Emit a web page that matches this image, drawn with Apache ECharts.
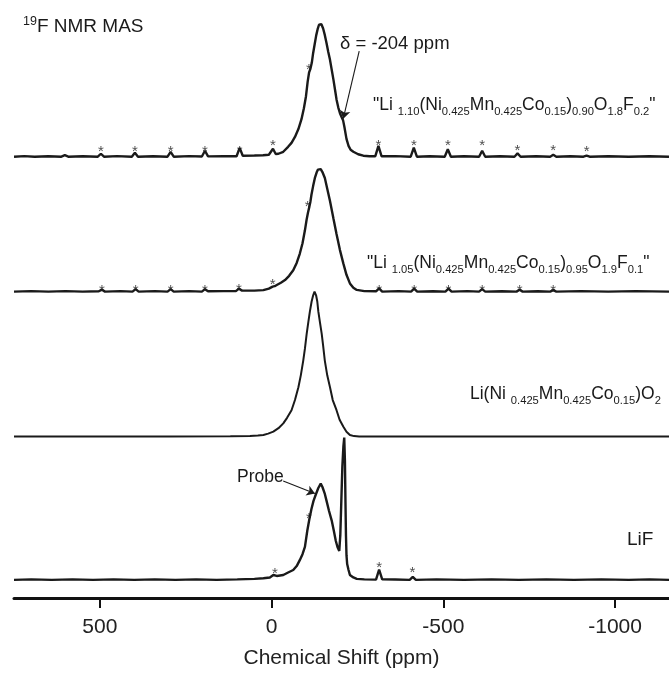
<!DOCTYPE html>
<html>
<head>
<meta charset="utf-8">
<script src="https://cdn.jsdelivr.net/npm/echarts@6/dist/echarts.min.js"></script>
<style>html,body{margin:0;padding:0;background:#fff}#c{width:669px;height:674px}</style>
</head>
<body>
<div id="c"></div>
<script>
// ---- data (ppm, intensity above each trace's own baseline) ----
const tickValues = [500, 0, -500, -1000];
const traceNames = ['LiNMC_F0.2', 'LiNMC_F0.1', 'LiNMC', 'LiF'];
const baselineOffsets = [446.5, 310, 163.3, 18.3];

const trace1 = [
[750,0],[720,0.6],[690,0],[650,0.5],[612,0],[602,1.5],[592,0],[550,0.5],[506,0],[497,3],[488,0],[450,0.6],[407,0],[398,4],[389,0],[345,0.5],[303,0],[294,5],[285,0],[240,0.6],[203,0.2],[194,6],[185,0.3],[140,0.6],[102,0.5],[93,9],[84,1],[50,1.2],[25,1.5],[8,2],[-4,8],[-12,2.8],[-20,3],[-34,5],[-48,10],[-58,14],[-68,20],[-78,28],[-87,38],[-94,49],[-100,61],[-105,76],[-109,85],[-113,89],[-117,95],[-121,105],[-126,115],[-130,123],[-134,129],[-138,133.5],[-141,135.3],[-145,134],[-150,129.7],[-155,123],[-160,114.7],[-165,106],[-170,98],[-175,88],[-180,78],[-185,67],[-189,58],[-194,50],[-199,44],[-204,40],[-208,37],[-212,30],[-218,18],[-224,11],[-230,7],[-238,5],[-252,2.5],[-267,1],[-285,0.5],[-302,0.5],[-311,11],[-320,0.5],[-360,0.6],[-405,0],[-414,9.3],[-423,0],[-460,0.5],[-504,0],[-513,7.6],[-522,0],[-560,0.5],[-604,0],[-613,6],[-622,0],[-665,0.5],[-707,0],[-716,3.3],[-725,0],[-770,0.5],[-811,0],[-820,2],[-829,0],[-870,0.4],[-908,0],[-917,1.2],[-926,0],[-980,0.5],[-1040,0],[-1100,0.5],[-1157,0]
];
const trace2 = [
[750,0],[700,0.5],[650,0],[600,0.5],[550,0],[503,0.3],[494,2],[485,0],[440,0.5],[405,0],[396,2.5],[387,0],[340,0.5],[303,0],[294,2.5],[285,0],[240,0.5],[203,0],[194,2.5],[185,0.3],[140,0.5],[104,0.5],[95,3],[86,1],[50,1],[24,1.5],[8,3],[-3,5],[-9,5.5],[-15,6.7],[-27,9],[-39,11.7],[-51,16],[-63,21.7],[-73,29],[-82,38.3],[-90,49],[-97,62],[-102,73],[-106,80],[-110,86],[-113,91],[-116,98],[-121,107],[-126,115],[-131,120.5],[-135,123.5],[-139,125],[-143,124],[-148,121],[-155,115],[-162,104],[-170,91.7],[-180,74],[-189,58.3],[-199,42],[-209,28.3],[-218,17],[-228,8.3],[-238,4],[-248,1.7],[-270,0.5],[-304,0.3],[-313,3.3],[-322,0],[-370,0.5],[-406,0],[-415,3],[-424,0],[-470,0.4],[-506,0],[-515,3],[-524,0],[-570,0.5],[-604,0],[-613,2.5],[-622,0],[-670,0.4],[-713,0],[-722,2],[-731,0],[-775,0.4],[-811,0],[-820,1.5],[-829,0],[-900,0.5],[-980,0],[-1060,0.5],[-1157,0]
];
const trace3 = [
[750,0],[300,0],[120,0.3],[63,0.5],[40,1],[24,1.7],[10,3],[-5,5],[-20,8.5],[-34,13.4],[-45,19],[-58,26.7],[-68,37],[-78,50],[-85,62],[-92,76.7],[-97,89],[-102,103.7],[-107,116],[-111.5,126.7],[-116.5,136.7],[-121,143],[-125,146.7],[-129.5,143],[-133,136.7],[-136,126.7],[-141,115],[-146,103.7],[-150,92],[-155,76.7],[-162,62],[-170,50],[-178,37],[-189,26.7],[-198,17],[-209,10],[-218,5],[-228,1.7],[-240,0.5],[-255,0],[-1157,0]
];
const trace4 = [
[750,0],[700,0.5],[640,0],[580,0.5],[520,0],[460,0.5],[400,0],[340,0.5],[280,0],[220,0.5],[160,0],[100,0.5],[50,1],[24,1.7],[5,2.5],[-5,5],[-15,4],[-34,5],[-48,7.5],[-63,10],[-73,14],[-82,20],[-90,26],[-97,33.4],[-104,50],[-110,61.7],[-116,71.7],[-122,80],[-129,86.7],[-136,93],[-143,97.4],[-148,94],[-155,87],[-160,80],[-167,70],[-175,60],[-181,50],[-187,39.4],[-192,33],[-197,29.4],[-200,45],[-203,80],[-206,115],[-209,135],[-211.5,144],[-213.5,120],[-215,80],[-216.5,45],[-218,25],[-220,16],[-224,10],[-228,5],[-238,2.5],[-248,1],[-270,0.5],[-304,0.3],[-313,10.5],[-322,0.5],[-360,0.4],[-402,0],[-411,3],[-420,0],[-480,0.5],[-560,0],[-640,0.5],[-720,0],[-800,0.5],[-880,0],[-960,0.5],[-1040,0],[-1100,0.5],[-1157,0]
];
const traces = [trace1, trace2, trace3, trace4];

// spinning side-band markers (ppm, height above baseline)
const sidebands1 = [[497,8],[398,8],[294,8],[194,8],[93,8],[-4,14],[-109,91],[-311,14],[-414,14],[-513,14],[-613,14],[-716,8.5],[-820,8.5],[-917,7.5]];
const sidebands2 = [[494,4],[396,4],[294,4],[194,4],[95,4.5],[-3,10],[-105,88.3],[-313,4.3],[-415,4.3],[-515,4.3],[-613,4.3],[-722,4.3],[-820,4.3]];
const sidebands3 = [];
const sidebands4 = [[-10,9],[-109,65],[-313,15.7],[-410,10]];
const sidebandSets = [sidebands1, sidebands2, sidebands3, sidebands4];

// annotation arrows: [startPpm, startHeight, endPpm, endHeight] relative to a trace
const deltaArrow = [-255, 106.8, -208.6, 38.5];   // on trace 1
const probeArrow = [-33.8, 100, -126.1, 87.4];    // on trace 4

const FONT = "'Liberation Sans', Arial, Helvetica, sans-serif";
const INK = '#1a1a1a';

function rich(parts) {
  return parts.map(p => '{' + p[0] + '|' + p[1] + '}').join('');
}
const richStyles = {
  m: { fontSize: 17.5, lineHeight: 24, fontFamily: FONT, fill: INK, verticalAlign: 'middle' },
  s: { fontSize: 11.2, lineHeight: 15, fontFamily: FONT, fill: INK, verticalAlign: 'bottom' },
  M: { fontSize: 19, lineHeight: 24, fontFamily: FONT, fill: INK, verticalAlign: 'middle' },
  u: { fontSize: 12.5, lineHeight: 14, fontFamily: FONT, fill: INK, verticalAlign: 'top' }
};

const label1 = rich([['m','"Li '],['s','1.10'],['m','(Ni'],['s','0.425'],['m','Mn'],['s','0.425'],['m','Co'],['s','0.15'],['m',')'],['s','0.90'],['m','O'],['s','1.8'],['m','F'],['s','0.2'],['m','"']]);
const label2 = rich([['m','"Li '],['s','1.05'],['m','(Ni'],['s','0.425'],['m','Mn'],['s','0.425'],['m','Co'],['s','0.15'],['m',')'],['s','0.95'],['m','O'],['s','1.9'],['m','F'],['s','0.1'],['m','"']]);
const label3 = rich([['m','Li(Ni '],['s','0.425'],['m','Mn'],['s','0.425'],['m','Co'],['s','0.15'],['m',')O'],['s','2']]);
const titleText = rich([['u','19'],['M','F NMR MAS']]);

function txt(x, y, text, size) {
  return { type: 'text', x: x, y: y, silent: true,
    style: { text: text, rich: richStyles, fontSize: size || 18, fontFamily: FONT, fill: INK, verticalAlign: 'middle', align: 'left' } };
}

const series = traces.map((d, i) => ({
  type: 'line', name: traceNames[i], silent: true, showSymbol: false, symbol: 'none',
  data: d.map(p => [p[0], p[1] + baselineOffsets[i]]),
  lineStyle: { color: INK, width: i === 2 ? 2 : 2.4 },
  z: 2
}));

function arrowLine(a, off) {
  return [{ coord: [a[0], a[1] + off] }, { coord: [a[2], a[3] + off] }];
}
const arrowStyle = { silent: true, symbol: ['none', 'arrow'], symbolSize: 8, label: { show: false },
  lineStyle: { color: INK, width: 1.1, type: 'solid' }, emphasis: { disabled: true } };
series[0].markLine = Object.assign({}, arrowStyle, { data: [arrowLine(deltaArrow, baselineOffsets[0])] });
series[3].markLine = Object.assign({}, arrowStyle, { data: [arrowLine(probeArrow, baselineOffsets[3])] });

const starData = [];
sidebandSets.forEach((set, i) => set.forEach(p => starData.push([p[0], p[1] + baselineOffsets[i]])));
series.push({
  type: 'scatter', silent: true, data: starData, symbolSize: 1,
  itemStyle: { color: 'rgba(0,0,0,0)' },
  label: { show: true, position: 'inside', formatter: '*', fontSize: 15, color: INK, fontFamily: FONT, offset: [0, 3] },
  z: 3
});

const chart = echarts.init(document.getElementById('c'), null, { renderer: 'canvas' });
chart.setOption({
  animation: false,
  backgroundColor: '#ffffff',
  grid: { left: 14, right: 0, top: 5, bottom: 69 },
  xAxis: {
    type: 'value', inverse: true, min: -1157, max: 750,
    axisLine: { lineStyle: { color: '#111', width: 3 } },
    axisTick: { customValues: tickValues, length: 10, lineStyle: { color: '#111', width: 2 } },
    axisLabel: { customValues: tickValues, formatter: v => String(v), fontSize: 21, color: '#222', margin: 19, fontFamily: FONT },
    splitLine: { show: false },
    name: 'Chemical Shift (ppm)', nameLocation: 'middle', nameGap: 50,
    nameTextStyle: { fontSize: 21, color: '#222', fontFamily: FONT }
  },
  yAxis: { type: 'value', min: 0, max: 600, show: false },
  series: series,
  graphic: [
    txt(23, 27, titleText),
    txt(340, 44, 'δ = -204 ppm', 18.5),
    txt(373, 105, label1),
    txt(367, 263, label2),
    txt(470, 394, label3),
    txt(627, 540, 'LiF', 19),
    txt(237, 477, 'Probe', 17.5)
  ]
});
</script>
</body>
</html>
